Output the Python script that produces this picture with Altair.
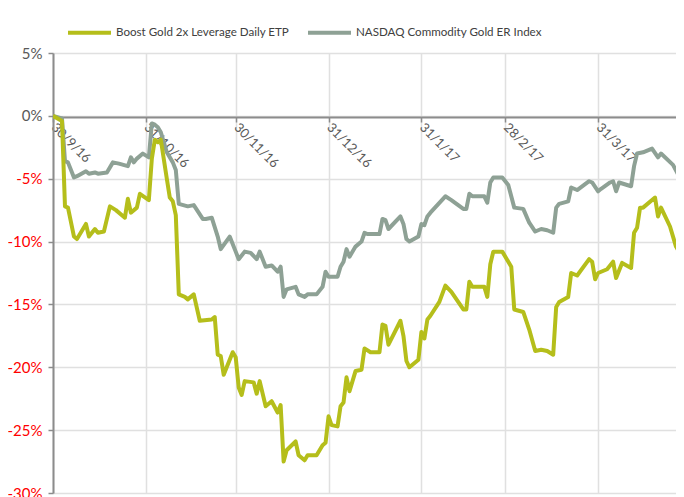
import altair as alt
import pandas as pd

series_names = ["Boost Gold 2x Leverage Daily ETP", "NASDAQ Commodity Gold ER Index"]
series_colors = ["#b5be1b", "#8ea195"]
start_date = "2016-09-30"
end_date = "2017-04-26"

# days after 30/9/16 and cumulative return in %
gold_days = [0, 3, 4, 5, 7, 8, 11, 12, 14, 15, 17, 19, 21, 24, 25, 26, 28, 29, 32, 33,
             34, 35, 36, 38, 39, 40, 41, 42, 44, 45, 47, 49, 53, 54, 55, 56, 57, 60, 61, 62,
             63, 64, 67, 68, 69, 71, 73, 75, 76, 77, 78, 81, 82, 84, 85, 88, 90, 91, 92, 93,
             95, 96, 97, 98, 99, 101, 103, 104, 106, 109, 110, 111, 112, 116, 117, 118, 119, 122, 123, 124,
             125, 126, 129, 131, 133, 137, 138, 139, 140, 144, 145, 146, 147, 150, 153, 154, 157, 159, 161, 163,
             165, 167, 168, 169, 172, 173, 175, 179, 180, 181, 182, 185, 187, 188, 190, 193, 194, 195, 196, 197,
             201, 202, 203, 206, 208, 209, 210]
gold_vals = [0.0, -0.4, -7.2, -7.3, -9.6, -9.8, -8.6, -9.6, -9.0, -9.3, -9.2, -7.2, -7.5, -8.1, -6.6, -7.7, -7.3, -6.2, -6.7, -3.4,
             -1.9, -2.1, -1.9, -5.0, -6.5, -6.8, -7.9, -14.2, -14.4, -14.6, -14.2, -16.3, -16.2, -16.0, -19.0, -19.1, -20.6, -18.8, -19.2, -21.6,
             -22.2, -21.1, -21.2, -22.1, -21.1, -23.1, -22.7, -23.6, -23.0, -27.5, -26.6, -25.9, -27.0, -27.4, -27.0, -27.0, -26.2, -26.0, -23.9, -24.6,
             -24.7, -23.1, -22.8, -20.8, -21.9, -20.3, -20.2, -18.5, -18.8, -18.8, -16.6, -16.7, -18.2, -16.3, -17.5, -19.5, -20.0, -19.4, -17.2, -17.7,
             -16.2, -15.9, -14.8, -13.5, -14.0, -15.4, -15.4, -13.2, -13.6, -13.6, -14.4, -11.8, -10.8, -10.8, -12.0, -15.4, -15.6, -17.0, -18.7, -18.6,
             -18.7, -19.0, -15.2, -14.8, -14.4, -12.5, -12.7, -11.4, -11.6, -13.0, -12.5, -12.2, -11.6, -12.9, -11.7, -12.1, -9.3, -8.9, -7.3, -7.3,
             -6.5, -8.0, -7.3, -8.8, -10.4, -10.8, -10.3]

nasdaq_days = [0, 3, 4, 5, 7, 8, 11, 12, 14, 15, 18, 20, 22, 25, 26, 27, 28, 30, 32, 33,
               34, 35, 36, 38, 40, 41, 42, 45, 47, 50, 51, 53, 55, 56, 59, 61, 62, 64, 66, 68,
               69, 71, 73, 75, 76, 77, 78, 81, 82, 84, 85, 88, 90, 91, 92, 95, 96, 97, 98, 99,
               101, 103, 104, 105, 109, 110, 111, 112, 116, 117, 118, 119, 122, 123, 124, 125, 126, 131, 133, 137,
               138, 139, 140, 144, 145, 146, 147, 150, 152, 154, 157, 159, 161, 163, 165, 167, 168, 169, 172, 173,
               175, 179, 180, 182, 183, 186, 187, 188, 189, 193, 194, 195, 197, 200, 202, 203, 207, 209, 210]
nasdaq_vals = [0.0, -0.2, -3.6, -3.7, -4.9, -4.8, -4.4, -4.6, -4.5, -4.6, -4.5, -3.7, -3.8, -4.0, -3.3, -3.7, -3.4, -3.0, -3.3, -0.6,
               -0.7, -0.9, -1.3, -2.9, -3.7, -4.3, -7.0, -7.2, -7.1, -8.2, -8.2, -8.1, -9.6, -10.6, -9.6, -10.8, -11.4, -10.8, -10.9, -11.4,
               -10.8, -12.0, -11.9, -12.4, -12.0, -14.4, -13.8, -13.6, -14.2, -14.4, -14.2, -14.2, -13.6, -12.4, -12.8, -12.8, -12.0, -11.6, -10.6, -11.2,
               -10.4, -10.0, -9.3, -9.4, -9.4, -8.2, -8.3, -9.0, -8.0, -8.6, -9.8, -10.0, -9.6, -8.6, -8.7, -8.0, -7.7, -6.4, -6.7, -7.4,
               -7.4, -6.2, -6.4, -6.4, -6.9, -5.3, -4.9, -4.9, -5.5, -7.3, -7.4, -8.5, -9.2, -9.0, -9.1, -9.3, -7.3, -7.0, -6.8, -5.7,
               -5.9, -5.2, -5.3, -6.0, -5.8, -5.3, -5.2, -6.0, -5.3, -5.6, -4.0, -3.0, -2.9, -2.6, -3.3, -3.0, -3.9, -4.8, -4.5]

month_end_ticks = ["2016-09-30", "2016-10-31", "2016-11-30", "2016-12-31",
                   "2017-01-31", "2017-02-28", "2017-03-31"]
y_ticks = [5, 0, -5, -10, -15, -20, -25, -30]

start = pd.Timestamp(start_date)


def to_dates(days):
    return [(start + pd.Timedelta(days=d)).strftime("%Y-%m-%d") for d in days]


df = pd.concat([
    pd.DataFrame({"date": to_dates(nasdaq_days), "value": nasdaq_vals, "series": series_names[1]}),
    pd.DataFrame({"date": to_dates(gold_days), "value": gold_vals, "series": series_names[0]}),
], ignore_index=True)


def dt(s):
    t = pd.Timestamp(s)
    return alt.DateTime(year=t.year, month=t.month, date=t.day, utc=True)


FONT = "Lato"

x_enc = alt.X(
    "date:T",
    scale=alt.Scale(type="utc", domain=[dt(start_date), dt(end_date)]),
    axis=alt.Axis(
        title=None,
        values=[dt(s) for s in month_end_ticks],
        labelExpr="utcFormat(datum.value, '%-d/%-m/%y')",
        labelAngle=45,
        labelAlign="left",
        labelBaseline="middle",
        labelFont=FONT,
        labelFontSize=13,
        labelColor="#595959",
        labelPadding=3,
        labelOverlap=False,
        labelFlush=False,
        offset=-376,
        domainColor="#8c8c8c",
        domainWidth=2,
        tickColor="#8c8c8c",
        tickWidth=1.5,
        tickSize=5,
        grid=True,
        gridColor="#e0e0e0",
        gridWidth=1.5,
    ),
)

y_enc = alt.Y(
    "value:Q",
    scale=alt.Scale(domain=[-30, 5], nice=False, zero=False),
    axis=alt.Axis(
        title=None,
        values=y_ticks,
        labelExpr="datum.value + '%'",
        labelColor={"expr": "datum.value < 0 ? '#ff0000' : '#595959'"},
        labelFont=FONT,
        labelFontSize=15,
        labelPadding=6,
        domainColor="#8c8c8c",
        domainWidth=2,
        tickColor="#8c8c8c",
        tickWidth=1.5,
        tickSize=5,
        grid=True,
        gridColor="#e0e0e0",
        gridWidth=1.5,
    ),
)

color_enc = alt.Color(
    "series:N",
    scale=alt.Scale(domain=series_names, range=series_colors),
    legend=alt.Legend(
        title=None,
        orient="none",
        legendX=13,
        legendY=-44,
        direction="horizontal",
        symbolType="stroke",
        symbolSize=1849,
        symbolStrokeWidth=4,
        labelFont=FONT,
        labelFontSize=11.6,
        labelColor="#404040",
        labelLimit=400,
        labelOffset=3,
        columnPadding=10,
        padding=0,
    ),
)

base = alt.Chart(df).mark_line(strokeWidth=4, clip=True, strokeJoin="round").encode(
    x=x_enc, y=y_enc, color=color_enc
)

chart = alt.layer(
    base.transform_filter(alt.datum.series == series_names[1]),
    base.transform_filter(alt.datum.series == series_names[0]),
).properties(
    width=623,
    height=440,
    autosize=alt.AutoSizeParams(type="none"),
    padding={"left": 45, "top": 45, "right": 0, "bottom": 4},
).configure_view(stroke=None)

chart.save("out.html", embed_options={"renderer": "svg", "actions": False})
